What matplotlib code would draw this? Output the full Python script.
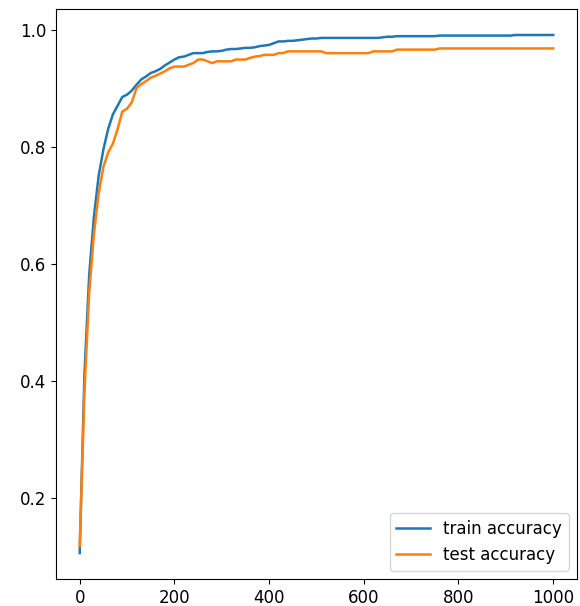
"""
train / test accuracy curves over training iterations
"""

import numpy as np
import matplotlib
matplotlib.use('Agg')
import matplotlib.pyplot as plt

# iterations, logged every 10 steps
steps = np.arange(0, 1001, 10)

train_acc = [0.105, 0.41, 0.58, 0.68, 0.75, 0.795, 0.83, 0.855, 0.87, 0.885,
             0.889, 0.896, 0.906, 0.915, 0.920, 0.926, 0.929, 0.933, 0.939, 0.944,
             0.949, 0.953, 0.954, 0.957, 0.960, 0.960, 0.960, 0.962, 0.963, 0.963,
             0.964, 0.966, 0.967, 0.967, 0.968, 0.969, 0.969, 0.970, 0.972, 0.973,
             0.974, 0.977, 0.980, 0.980, 0.981, 0.981, 0.982, 0.983, 0.984, 0.985,
             0.985, 0.986, 0.986, 0.986, 0.986, 0.986, 0.986, 0.986, 0.986, 0.986,
             0.986, 0.986, 0.986, 0.986, 0.987, 0.988, 0.988, 0.989, 0.989, 0.989,
             0.989, 0.989, 0.989, 0.989, 0.989, 0.989, 0.990, 0.990, 0.990, 0.990,
             0.990, 0.990, 0.990, 0.990, 0.990, 0.990, 0.990, 0.990, 0.990, 0.990,
             0.990, 0.990, 0.991, 0.991, 0.991, 0.991, 0.991, 0.991, 0.991, 0.991,
             0.991]

test_acc = [0.117, 0.38, 0.55, 0.65, 0.72, 0.765, 0.79, 0.805, 0.83, 0.86,
            0.865, 0.876, 0.900, 0.907, 0.912, 0.918, 0.921, 0.925, 0.929, 0.934,
            0.937, 0.937, 0.937, 0.940, 0.943, 0.949, 0.949, 0.946, 0.943, 0.946,
            0.946, 0.946, 0.946, 0.949, 0.949, 0.949, 0.952, 0.954, 0.955, 0.957,
            0.957, 0.957, 0.960, 0.960, 0.963, 0.963, 0.963, 0.963, 0.963, 0.963,
            0.963, 0.963, 0.960, 0.960, 0.960, 0.960, 0.960, 0.960, 0.960, 0.960,
            0.960, 0.960, 0.963, 0.963, 0.963, 0.963, 0.963, 0.966, 0.966, 0.966,
            0.966, 0.966, 0.966, 0.966, 0.966, 0.966, 0.968, 0.968, 0.968, 0.968,
            0.968, 0.968, 0.968, 0.968, 0.968, 0.968, 0.968, 0.968, 0.968, 0.968,
            0.968, 0.968, 0.968, 0.968, 0.968, 0.968, 0.968, 0.968, 0.968, 0.968,
            0.968]

plt.close('all')
plt.rcParams['font.size'] = 12

fig = plt.figure(figsize=(5.8, 6.06), dpi=100)
ax = fig.add_axes([0.0966, 0.0446, 0.898, 0.9404])

ax.plot(steps, train_acc, color='#1f77b4', linewidth=1.8, label='train accuracy')
ax.plot(steps, test_acc, color='#ff7f0e', linewidth=1.8, label='test accuracy')

ax.legend(loc='lower right')

fig.savefig('out.png', dpi=100)
